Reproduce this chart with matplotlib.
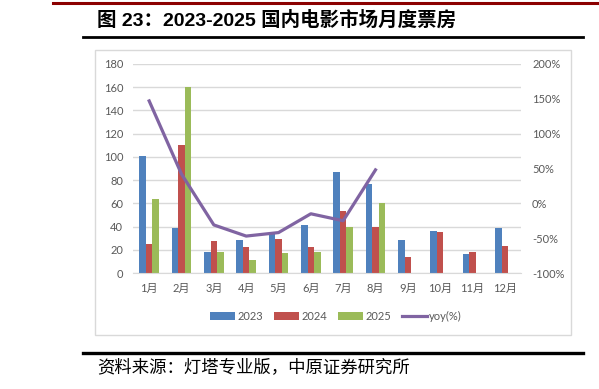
"""Monthly domestic box office 2023-2025 with 2025 yoy line."""

import matplotlib.pyplot as plt
import numpy as np
from matplotlib.lines import Line2D
from matplotlib.patches import Rectangle

months = ["1月", "2月", "3月", "4月", "5月", "6月", "7月", "8月", "9月", "10月", "11月", "12月"]
box_2023 = [101, 38.5, 18.5, 28.5, 34, 41, 87, 77, 28, 36.5, 16.5, 39]
box_2024 = [25, 110.5, 27.5, 22, 29, 22, 53, 40, 14, 35.5, 18.5, 23]
box_2025 = [63.5, 160.5, 18.5, 11.5, 17, 18.5, 40, 60, np.nan, np.nan, np.nan, np.nan]
yoy_2025 = [147, 42, -31, -47, -42, -15, -25, 48]  # %

left_ticks = list(range(0, 181, 20))
right_ticks = list(range(-100, 201, 50))

BLUE = "#4F81BD"
RED = "#C0504D"
GREEN = "#9BBB59"
PURPLE = "#8064A2"
GRID = "#D9D9D9"
TEXT = "#595959"

W, H = 599, 389

plt.rcParams["font.family"] = ["Lato", "Noto Sans CJK SC", "DejaVu Sans"]


def fx(px):
    return px / W


def fy(py):
    return 1 - py / H


def main() -> None:
    fig = plt.figure(figsize=(W / 100, H / 100), dpi=100)

    # frame around the chart area
    fig.add_artist(Rectangle((fx(95), fy(335)), fx(571) - fx(95), fy(50) - fy(335),
                             transform=fig.transFigure, fill=False, edgecolor=GRID, lw=1.0))

    ax = fig.add_axes([fx(133), fy(273), fx(521) - fx(133), fy(64) - fy(273)])
    x = np.arange(len(months))
    width = 0.2
    b1 = ax.bar(x - width, box_2023, width, color=BLUE, label="2023")
    b2 = ax.bar(x, box_2024, width, color=RED, label="2024")
    b3 = ax.bar(x + width, box_2025, width, color=GREEN, label="2025")

    ax.set_xlim(-0.5, len(months) - 0.5)
    ax.set_ylim(0, 180)
    ax.set_yticks(left_ticks)
    ax.set_yticklabels([str(v) for v in left_ticks])
    ax.set_xticks(x)
    ax.set_xticklabels(months)
    ax.grid(axis="y", color=GRID, lw=1.0)
    ax.set_axisbelow(True)
    for side in ["top", "left", "right"]:
        ax.spines[side].set_visible(False)
    ax.spines["bottom"].set_color(GRID)
    ax.tick_params(axis="y", length=0, pad=7, labelsize=8, labelcolor=TEXT)
    ax.tick_params(axis="x", length=0, pad=7, labelsize=8, labelcolor=TEXT)

    ax2 = ax.twinx()
    line, = ax2.plot(x[:len(yoy_2025)], yoy_2025, color=PURPLE, lw=2.3, label="yoy(%)")
    ax2.set_ylim(-100, 200)
    ax2.set_yticks(right_ticks)
    ax2.set_yticklabels([f"{v}%" for v in right_ticks])
    ax2.tick_params(axis="y", length=0, pad=8, labelsize=8, labelcolor=TEXT)
    for side in ["top", "left", "right", "bottom"]:
        ax2.spines[side].set_visible(False)

    fig.legend([b1, b2, b3, line], ["2023", "2024", "2025", "yoy(%)"],
               loc="center", bbox_to_anchor=(fx(336), fy(316.5)), ncol=4, frameon=False,
               fontsize=8, labelcolor=TEXT, handlelength=2.25, handletextpad=0.2,
               columnspacing=1.0, handleheight=0.65)

    # header / footer decoration
    fig.add_artist(Line2D([fx(53), fx(599)], [fy(2.5), fy(2.5)], color="#8B0000", lw=2.2))
    fig.add_artist(Line2D([fx(83), fx(583)], [fy(37), fy(37)], color="black", lw=2.0))
    fig.add_artist(Line2D([fx(83), fx(583)], [fy(352.5), fy(352.5)], color="black", lw=2.4))

    fig.text(fx(97), fy(20), "图 23：2023-2025 国内电影市场月度票房",
             family=["Liberation Sans", "Noto Sans CJK SC"], weight="bold",
             fontsize=14, va="center", ha="left", color="black")
    fig.text(fx(97), fy(367.5), "资料来源：灯塔专业版，中原证券研究所",
             family=["Noto Sans CJK SC"], fontsize=12.5, va="center", ha="left", color="black")

    fig.savefig("out.png", dpi=100)
    plt.close(fig)


if __name__ == "__main__":
    main()
